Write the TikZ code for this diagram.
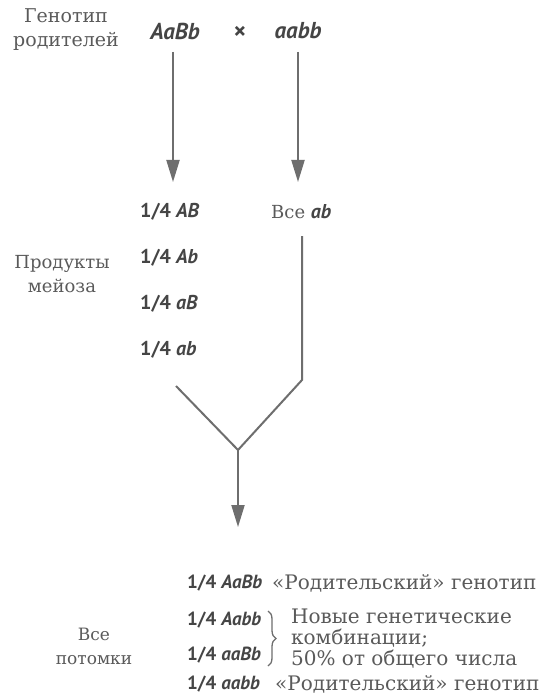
\documentclass[tikz,border=0pt]{standalone}
\usepackage{fontspec}
\setmainfont{DejaVu Serif}
\newfontfamily\lblfont{PT Sans}
\usetikzlibrary{arrows.meta,decorations.pathreplacing}
\definecolor{txtgray}{HTML}{5A5A5A}
\definecolor{lblgray}{HTML}{454545}
\definecolor{lngray}{HTML}{6E6E6E}
\tikzset{
  sertext/.style={font=\fontsize{18}{24}\selectfont, text=txtgray, align=center, inner sep=0pt},
  bigser/.style={sertext, font=\fontsize{20}{21}\selectfont},
  gen/.style={font=\lblfont\bfseries\fontsize{19}{22}\selectfont, text=lblgray, inner sep=0pt},
  gamete/.style={gen, font=\lblfont\bfseries\fontsize{20}{22}\selectfont, anchor=west},
  parent/.style={gen, font=\lblfont\bfseries\fontsize{23}{26}\selectfont},
  conn/.style={draw=lngray, line width=2pt},
  arr/.style={conn, -{Triangle[length=22pt,width=13pt]}},
}
\begin{document}
\begin{tikzpicture}[x=1pt,y=-1pt]
\useasboundingbox (0,0) rectangle (544,695);
\fill[white] (0,0) rectangle (544,695);
% top
\node[sertext, font=\fontsize{19}{24}\selectfont] (genlab) at (66,30) {Генотип\\родителей};
\node[parent] (p1) at (175,31) {\itshape AaBb};
\node[gen,font=\lblfont\bfseries\fontsize{24}{26}\selectfont] (x) at (240,33) {×};
\node[parent] (p2) at (298,31) {\itshape aabb};
\coordinate (p1s) at (173,52);
\coordinate (p2s) at (298,52);
% gametes
\node[gamete] (g1) at (140,212) {1/4 \itshape AB};
\node[gamete] (g2) at (140,258) {1/4 \itshape Ab};
\node[gamete] (g3) at (140,304) {1/4 \itshape aB};
\node[gamete] (g4) at (140,350) {1/4 \itshape ab};
\node[anchor=west, inner sep=0pt] (gall) at (271,212) {\fontsize{18}{22}\selectfont\color{txtgray}Все \lblfont\bfseries\itshape\fontsize{20}{22}\selectfont\color{lblgray}ab};
\node[sertext] (meio) at (62,274) {Продукты\\мейоза};
\draw[arr] (p1s) -- (173,182) coordinate (p1e);
\draw[arr] (p2s) -- (298,182) coordinate (p2e);
% merging
\coordinate (rtop) at (302,236);
\coordinate (rbend) at (302,380);
\coordinate (ltop) at (176,386);
\coordinate (join) at (238,450);
\coordinate (down) at (238,527);
\draw[conn, line join=miter] (rtop) -- (rbend) -- (join);
\draw[conn] (ltop) -- (join);
\draw[arr] (join) -- (down);
% offspring
\node[gen, anchor=west] (o1) at (187,583) {1/4 \itshape AaBb};
\node[gen, anchor=west] (o2) at (187,620) {1/4 \itshape Aabb};
\node[gen, anchor=west] (o3) at (187,655) {1/4 \itshape aaBb};
\node[gen, anchor=west] (o4) at (187,684) {1/4 \itshape aabb};
\node[bigser, anchor=west] (r1) at (272,583) {«Родительский» генотип};
\node[bigser, anchor=west] (r4) at (275,684) {«Родительский» генотип};
\draw[draw=lngray, line width=1.3pt, decorate, decoration={brace, amplitude=8pt}] (268,611) -- (268,666) coordinate (brb);
\node[bigser, anchor=west, align=left] (newc) at (291,639) {Новые генетические\\комбинации;\\50\% от общего числа};
\node[sertext, font=\fontsize{17}{24}\selectfont] (all) at (94,646) {Все\\потомки};
\end{tikzpicture}
\end{document}
